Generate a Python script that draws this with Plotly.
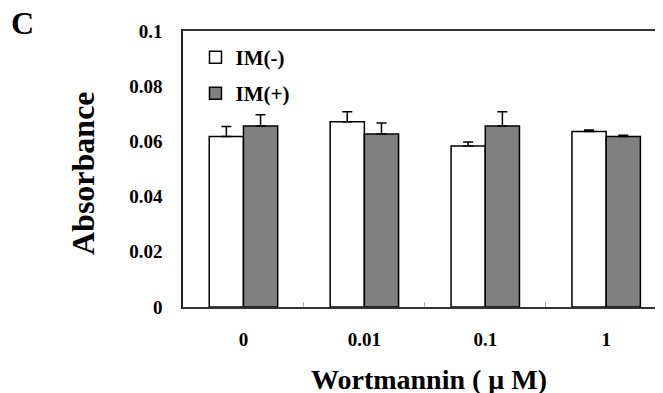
import plotly.graph_objects as go

categories = ["0", "0.01", "0.1", "1"]
im_minus = [0.0618, 0.0671, 0.0583, 0.0636]
im_minus_err = [0.0036, 0.0036, 0.0015, 0.0005]
im_plus = [0.0656, 0.0627, 0.0656, 0.0618]
im_plus_err = [0.0041, 0.0040, 0.0051, 0.0004]
y_ticks = [0, 0.02, 0.04, 0.06, 0.08, 0.1]
y_ticktext = ["0", "0.02", "0.04", "0.06", "0.08", "0.1"]

FONT = "Liberation Serif, Times New Roman, serif"
xpos = list(range(len(categories)))

fig = go.Figure()
fig.add_trace(go.Bar(
    x=xpos, y=im_minus, name="IM(-)", legend="legend",
    marker=dict(color="white", line=dict(color="black", width=1.5)),
    error_y=dict(type="data", array=im_minus_err, arrayminus=[0]*4, symmetric=False,
                 color="black", thickness=1.5, width=5),
))
fig.add_trace(go.Bar(
    x=xpos, y=im_plus, name="IM(+)", legend="legend2",
    marker=dict(color="#808080", line=dict(color="black", width=1.5)),
    error_y=dict(type="data", array=im_plus_err, arrayminus=[0]*4, symmetric=False,
                 color="black", thickness=1.5, width=5),
))

# page has an 8px body margin: figure is 655x385 so window is filled
W, H = 655, 385
L, T, B = 175, 23, 86
pw, ph = W - L, H - T - B


def px_x(wx):  # window x -> paper
    return (wx - 8 - L) / pw


def px_y(wy):  # window y -> paper
    return (H - B - (wy - 8)) / ph


legend_style = dict(xanchor="left", yanchor="top",
                    font=dict(family=FONT, size=21, color="black", weight="bold"),
                    bgcolor="rgba(0,0,0,0)", itemwidth=30)

fig.update_layout(
    width=W, height=H,
    margin=dict(l=L, r=0, t=T, b=B, pad=0, autoexpand=False),
    paper_bgcolor="white", plot_bgcolor="white",
    barmode="group", bargap=0.434, bargroupgap=0,
    font=dict(family=FONT, color="black", size=19),
    showlegend=True,
    legend=dict(x=0.026, y=px_y(37), **legend_style),
    legend2=dict(x=0.026, y=px_y(73), **legend_style),
    xaxis=dict(
        range=[-0.5, 3.47], tickvals=xpos, ticktext=categories,
        showline=True, linecolor="#333", linewidth=1.5, mirror=True,
        ticks="", showgrid=False, zeroline=False, automargin=False,
        tickfont=dict(family=FONT, size=19, color="black", weight="bold"),
        ticklabelstandoff=14,
        minor=dict(tickvals=[0.5, 1.5, 2.5], ticks="inside", ticklen=5,
                   tickcolor="#aaa", tickwidth=1, showgrid=False),
    ),
    yaxis=dict(
        range=[0, 0.1], tickvals=y_ticks, ticktext=y_ticktext,
        showline=True, linecolor="#222", linewidth=1.5,
        ticks="", showgrid=False, zeroline=False, automargin=False,
        tickfont=dict(family=FONT, size=19, color="black", weight="bold"),
        ticklabelstandoff=15,
    ),
    annotations=[
        dict(text="<b>Absorbance</b>", x=px_x(83), y=px_y(173),
             xref="paper", yref="paper", xanchor="center", yanchor="middle",
             showarrow=False, textangle=-90, font=dict(family=FONT, size=32, color="black")),
        dict(text="<b>Wortmannin ( μ M)</b>", x=px_x(429), y=px_y(379),
             xref="paper", yref="paper", xanchor="center", yanchor="middle",
             showarrow=False, font=dict(family=FONT, size=28, color="black")),
        dict(text="<b>C</b>", x=px_x(22), y=px_y(23),
             xref="paper", yref="paper", xanchor="center", yanchor="middle",
             showarrow=False, font=dict(family=FONT, size=32, color="black")),
    ],
)

fig.write_html("out.html")
